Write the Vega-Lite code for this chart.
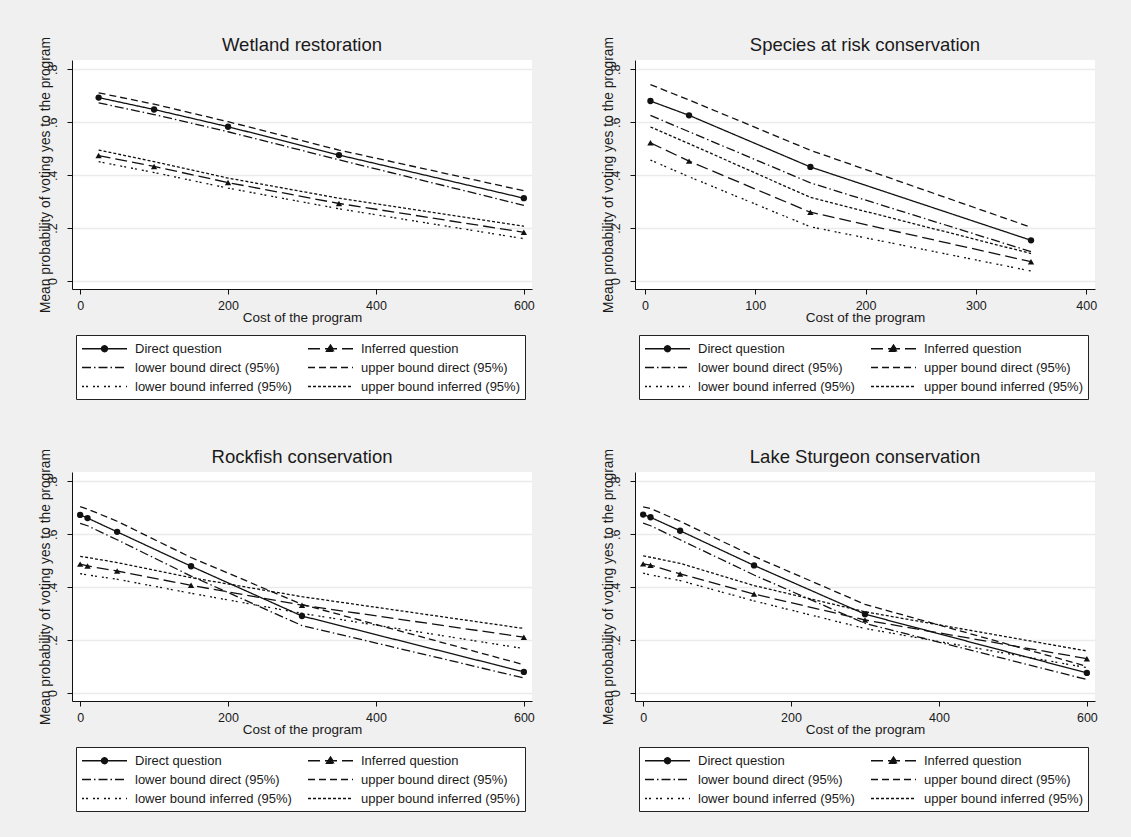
{
  "$schema": "https://vega.github.io/schema/vega-lite/v6.json",
  "autosize": {"type": "pad"},
  "padding": {"left": 37, "top": 36, "right": 42, "bottom": 25},
  "background": "#f0f0f0",
  "datasets": {
    "wetland": [
      {"series": "Direct question", "cost": 25, "prob": 0.693},
      {"series": "Direct question", "cost": 100, "prob": 0.648},
      {"series": "Direct question", "cost": 200, "prob": 0.583},
      {"series": "Direct question", "cost": 350, "prob": 0.476},
      {"series": "Direct question", "cost": 600, "prob": 0.313},
      {"series": "Inferred question", "cost": 25, "prob": 0.474},
      {"series": "Inferred question", "cost": 100, "prob": 0.433},
      {"series": "Inferred question", "cost": 200, "prob": 0.372},
      {"series": "Inferred question", "cost": 350, "prob": 0.293},
      {"series": "Inferred question", "cost": 600, "prob": 0.184},
      {"series": "lower bound direct (95%)", "cost": 25, "prob": 0.673},
      {"series": "lower bound direct (95%)", "cost": 100, "prob": 0.629},
      {"series": "lower bound direct (95%)", "cost": 200, "prob": 0.564},
      {"series": "lower bound direct (95%)", "cost": 350, "prob": 0.458},
      {"series": "lower bound direct (95%)", "cost": 600, "prob": 0.286},
      {"series": "upper bound direct (95%)", "cost": 25, "prob": 0.711},
      {"series": "upper bound direct (95%)", "cost": 100, "prob": 0.668},
      {"series": "upper bound direct (95%)", "cost": 200, "prob": 0.602},
      {"series": "upper bound direct (95%)", "cost": 350, "prob": 0.495},
      {"series": "upper bound direct (95%)", "cost": 600, "prob": 0.341},
      {"series": "lower bound inferred (95%)", "cost": 25, "prob": 0.451},
      {"series": "lower bound inferred (95%)", "cost": 100, "prob": 0.410},
      {"series": "lower bound inferred (95%)", "cost": 200, "prob": 0.351},
      {"series": "lower bound inferred (95%)", "cost": 350, "prob": 0.273},
      {"series": "lower bound inferred (95%)", "cost": 600, "prob": 0.160},
      {"series": "upper bound inferred (95%)", "cost": 25, "prob": 0.495},
      {"series": "upper bound inferred (95%)", "cost": 100, "prob": 0.451},
      {"series": "upper bound inferred (95%)", "cost": 200, "prob": 0.389},
      {"series": "upper bound inferred (95%)", "cost": 350, "prob": 0.313},
      {"series": "upper bound inferred (95%)", "cost": 600, "prob": 0.207}
    ],
    "species": [
      {"series": "Direct question", "cost": 5, "prob": 0.680},
      {"series": "Direct question", "cost": 40, "prob": 0.626},
      {"series": "Direct question", "cost": 150, "prob": 0.431},
      {"series": "Direct question", "cost": 350, "prob": 0.154},
      {"series": "Inferred question", "cost": 5, "prob": 0.522},
      {"series": "Inferred question", "cost": 40, "prob": 0.453},
      {"series": "Inferred question", "cost": 150, "prob": 0.260},
      {"series": "Inferred question", "cost": 350, "prob": 0.073},
      {"series": "lower bound direct (95%)", "cost": 5, "prob": 0.626},
      {"series": "lower bound direct (95%)", "cost": 40, "prob": 0.564},
      {"series": "lower bound direct (95%)", "cost": 150, "prob": 0.371},
      {"series": "lower bound direct (95%)", "cost": 350, "prob": 0.111},
      {"series": "upper bound direct (95%)", "cost": 5, "prob": 0.742},
      {"series": "upper bound direct (95%)", "cost": 40, "prob": 0.684},
      {"series": "upper bound direct (95%)", "cost": 150, "prob": 0.494},
      {"series": "upper bound direct (95%)", "cost": 350, "prob": 0.203},
      {"series": "lower bound inferred (95%)", "cost": 5, "prob": 0.457},
      {"series": "lower bound inferred (95%)", "cost": 40, "prob": 0.394},
      {"series": "lower bound inferred (95%)", "cost": 150, "prob": 0.205},
      {"series": "lower bound inferred (95%)", "cost": 350, "prob": 0.038},
      {"series": "upper bound inferred (95%)", "cost": 5, "prob": 0.582},
      {"series": "upper bound inferred (95%)", "cost": 40, "prob": 0.519},
      {"series": "upper bound inferred (95%)", "cost": 150, "prob": 0.316},
      {"series": "upper bound inferred (95%)", "cost": 350, "prob": 0.104}
    ],
    "rockfish": [
      {"series": "Direct question", "cost": 0, "prob": 0.673},
      {"series": "Direct question", "cost": 10, "prob": 0.661},
      {"series": "Direct question", "cost": 50, "prob": 0.609},
      {"series": "Direct question", "cost": 150, "prob": 0.479},
      {"series": "Direct question", "cost": 300, "prob": 0.291},
      {"series": "Direct question", "cost": 600, "prob": 0.080},
      {"series": "Inferred question", "cost": 0, "prob": 0.487},
      {"series": "Inferred question", "cost": 10, "prob": 0.480},
      {"series": "Inferred question", "cost": 50, "prob": 0.461},
      {"series": "Inferred question", "cost": 150, "prob": 0.407},
      {"series": "Inferred question", "cost": 300, "prob": 0.332},
      {"series": "Inferred question", "cost": 600, "prob": 0.211},
      {"series": "lower bound direct (95%)", "cost": 0, "prob": 0.641},
      {"series": "lower bound direct (95%)", "cost": 10, "prob": 0.632},
      {"series": "lower bound direct (95%)", "cost": 50, "prob": 0.579},
      {"series": "lower bound direct (95%)", "cost": 150, "prob": 0.442},
      {"series": "lower bound direct (95%)", "cost": 300, "prob": 0.255},
      {"series": "lower bound direct (95%)", "cost": 600, "prob": 0.057},
      {"series": "upper bound direct (95%)", "cost": 0, "prob": 0.704},
      {"series": "upper bound direct (95%)", "cost": 10, "prob": 0.695},
      {"series": "upper bound direct (95%)", "cost": 50, "prob": 0.649},
      {"series": "upper bound direct (95%)", "cost": 150, "prob": 0.512},
      {"series": "upper bound direct (95%)", "cost": 300, "prob": 0.335},
      {"series": "upper bound direct (95%)", "cost": 600, "prob": 0.107},
      {"series": "lower bound inferred (95%)", "cost": 0, "prob": 0.451},
      {"series": "lower bound inferred (95%)", "cost": 10, "prob": 0.446},
      {"series": "lower bound inferred (95%)", "cost": 50, "prob": 0.430},
      {"series": "lower bound inferred (95%)", "cost": 150, "prob": 0.377},
      {"series": "lower bound inferred (95%)", "cost": 300, "prob": 0.301},
      {"series": "lower bound inferred (95%)", "cost": 600, "prob": 0.168},
      {"series": "upper bound inferred (95%)", "cost": 0, "prob": 0.516},
      {"series": "upper bound inferred (95%)", "cost": 10, "prob": 0.512},
      {"series": "upper bound inferred (95%)", "cost": 50, "prob": 0.493},
      {"series": "upper bound inferred (95%)", "cost": 150, "prob": 0.436},
      {"series": "upper bound inferred (95%)", "cost": 300, "prob": 0.364},
      {"series": "upper bound inferred (95%)", "cost": 600, "prob": 0.244}
    ],
    "sturgeon": [
      {"series": "Direct question", "cost": 0, "prob": 0.674},
      {"series": "Direct question", "cost": 10, "prob": 0.664},
      {"series": "Direct question", "cost": 50, "prob": 0.613},
      {"series": "Direct question", "cost": 150, "prob": 0.482},
      {"series": "Direct question", "cost": 300, "prob": 0.298},
      {"series": "Direct question", "cost": 600, "prob": 0.076},
      {"series": "Inferred question", "cost": 0, "prob": 0.488},
      {"series": "Inferred question", "cost": 10, "prob": 0.483},
      {"series": "Inferred question", "cost": 50, "prob": 0.450},
      {"series": "Inferred question", "cost": 150, "prob": 0.374},
      {"series": "Inferred question", "cost": 300, "prob": 0.276},
      {"series": "Inferred question", "cost": 600, "prob": 0.130},
      {"series": "lower bound direct (95%)", "cost": 0, "prob": 0.642},
      {"series": "lower bound direct (95%)", "cost": 10, "prob": 0.632},
      {"series": "lower bound direct (95%)", "cost": 50, "prob": 0.579},
      {"series": "lower bound direct (95%)", "cost": 150, "prob": 0.446},
      {"series": "lower bound direct (95%)", "cost": 300, "prob": 0.263},
      {"series": "lower bound direct (95%)", "cost": 600, "prob": 0.051},
      {"series": "upper bound direct (95%)", "cost": 0, "prob": 0.703},
      {"series": "upper bound direct (95%)", "cost": 10, "prob": 0.697},
      {"series": "upper bound direct (95%)", "cost": 50, "prob": 0.649},
      {"series": "upper bound direct (95%)", "cost": 150, "prob": 0.516},
      {"series": "upper bound direct (95%)", "cost": 300, "prob": 0.335},
      {"series": "upper bound direct (95%)", "cost": 600, "prob": 0.101},
      {"series": "lower bound inferred (95%)", "cost": 0, "prob": 0.453},
      {"series": "lower bound inferred (95%)", "cost": 10, "prob": 0.446},
      {"series": "lower bound inferred (95%)", "cost": 50, "prob": 0.425},
      {"series": "lower bound inferred (95%)", "cost": 150, "prob": 0.348},
      {"series": "lower bound inferred (95%)", "cost": 300, "prob": 0.244},
      {"series": "lower bound inferred (95%)", "cost": 600, "prob": 0.096},
      {"series": "upper bound inferred (95%)", "cost": 0, "prob": 0.518},
      {"series": "upper bound inferred (95%)", "cost": 10, "prob": 0.513},
      {"series": "upper bound inferred (95%)", "cost": 50, "prob": 0.490},
      {"series": "upper bound inferred (95%)", "cost": 150, "prob": 0.406},
      {"series": "upper bound inferred (95%)", "cost": 300, "prob": 0.307},
      {"series": "upper bound inferred (95%)", "cost": 600, "prob": 0.159}
    ]
  },
  "columns": 2,
  "spacing": {"row": 183, "column": 103},
  "bounds": "flush",
  "resolve": {"scale": {"strokeDash": "independent"}, "legend": {"strokeDash": "independent"}},
  "concat": [
    {
      "title": "Wetland restoration",
      "width": 460, "height": 229,
      "data": {"name": "wetland"},
      "layer": [
        {
          "mark": {"type": "line", "strokeWidth": 1.3, "color": "#111111"},
          "encoding": {
            "x": {"field": "cost", "type": "quantitative", "scale": {"domain": [-11, 611], "nice": false, "zero": false}, "axis": {"values": [0, 200, 400, 600], "title": "Cost of the program"}},
            "y": {"field": "prob", "type": "quantitative", "scale": {"domain": [-0.03, 0.835], "nice": false, "zero": false}, "axis": {"values": [0, 0.2, 0.4, 0.6, 0.8], "title": "Mean probability of voting yes to the program"}},
            "strokeDash": {"field": "series", "type": "nominal",
              "scale": {"domain": ["Direct question", "Inferred question", "lower bound direct (95%)", "upper bound direct (95%)", "lower bound inferred (95%)", "upper bound inferred (95%)"],
                        "range": [[1, 0], [12, 5], [9, 3, 1.5, 3], [7, 4], [2, 2, 2, 5], [3, 2]]},
              "legend": {"title": null, "orient": "none", "legendX": 4, "legendY": 275, "columns": 2, "direction": "horizontal",
                "encode": {"symbols": {"update": {"shape": {"signal": "datum.value === 'Direct question' ? 'M-1,0H5M1.6,0A0.4,0.4,0,1,0,2.4,0A0.4,0.4,0,1,0,1.6,0' : datum.value === 'Inferred question' ? 'M-1,0H5M1.45,0.35L2,-0.5L2.55,0.35Z' : 'M-1,0H5'"}, "fill": {"value": "#111111"}, "stroke": {"value": "#111111"}, "strokeWidth": {"value": 1.3}}}}}
            }
          }
        },
        {
          "transform": [{"filter": {"field": "series", "oneOf": ["Direct question", "Inferred question"]}}],
          "mark": {"type": "point", "filled": true, "opacity": 1, "color": "#111111", "size": 40},
          "encoding": {
            "x": {"field": "cost", "type": "quantitative"},
            "y": {"field": "prob", "type": "quantitative"},
            "shape": {"field": "series", "type": "nominal", "scale": {"domain": ["Direct question", "Inferred question"], "range": ["circle", "triangle-up"]}, "legend": null}
          }
        }
      ]
    },
    {
      "title": "Species at risk conservation",
      "width": 460, "height": 229,
      "data": {"name": "species"},
      "layer": [
        {
          "mark": {"type": "line", "strokeWidth": 1.3, "color": "#111111"},
          "encoding": {
            "x": {"field": "cost", "type": "quantitative", "scale": {"domain": [-9, 408], "nice": false, "zero": false}, "axis": {"values": [0, 100, 200, 300, 400], "title": "Cost of the program"}},
            "y": {"field": "prob", "type": "quantitative", "scale": {"domain": [-0.03, 0.835], "nice": false, "zero": false}, "axis": {"values": [0, 0.2, 0.4, 0.6, 0.8], "title": "Mean probability of voting yes to the program"}},
            "strokeDash": {"field": "series", "type": "nominal",
              "scale": {"domain": ["Direct question", "Inferred question", "lower bound direct (95%)", "upper bound direct (95%)", "lower bound inferred (95%)", "upper bound inferred (95%)"],
                        "range": [[1, 0], [12, 5], [9, 3, 1.5, 3], [7, 4], [2, 2, 2, 5], [3, 2]]},
              "legend": {"title": null, "orient": "none", "legendX": 4, "legendY": 275, "columns": 2, "direction": "horizontal",
                "encode": {"symbols": {"update": {"shape": {"signal": "datum.value === 'Direct question' ? 'M-1,0H5M1.6,0A0.4,0.4,0,1,0,2.4,0A0.4,0.4,0,1,0,1.6,0' : datum.value === 'Inferred question' ? 'M-1,0H5M1.45,0.35L2,-0.5L2.55,0.35Z' : 'M-1,0H5'"}, "fill": {"value": "#111111"}, "stroke": {"value": "#111111"}, "strokeWidth": {"value": 1.3}}}}}
            }
          }
        },
        {
          "transform": [{"filter": {"field": "series", "oneOf": ["Direct question", "Inferred question"]}}],
          "mark": {"type": "point", "filled": true, "opacity": 1, "color": "#111111", "size": 40},
          "encoding": {
            "x": {"field": "cost", "type": "quantitative"},
            "y": {"field": "prob", "type": "quantitative"},
            "shape": {"field": "series", "type": "nominal", "scale": {"domain": ["Direct question", "Inferred question"], "range": ["circle", "triangle-up"]}, "legend": null}
          }
        }
      ]
    },
    {
      "title": "Rockfish conservation",
      "width": 460, "height": 229,
      "data": {"name": "rockfish"},
      "layer": [
        {
          "mark": {"type": "line", "strokeWidth": 1.3, "color": "#111111"},
          "encoding": {
            "x": {"field": "cost", "type": "quantitative", "scale": {"domain": [-11, 611], "nice": false, "zero": false}, "axis": {"values": [0, 200, 400, 600], "title": "Cost of the program"}},
            "y": {"field": "prob", "type": "quantitative", "scale": {"domain": [-0.03, 0.835], "nice": false, "zero": false}, "axis": {"values": [0, 0.2, 0.4, 0.6, 0.8], "title": "Mean probability of voting yes to the program"}},
            "strokeDash": {"field": "series", "type": "nominal",
              "scale": {"domain": ["Direct question", "Inferred question", "lower bound direct (95%)", "upper bound direct (95%)", "lower bound inferred (95%)", "upper bound inferred (95%)"],
                        "range": [[1, 0], [12, 5], [9, 3, 1.5, 3], [7, 4], [2, 2, 2, 5], [3, 2]]},
              "legend": {"title": null, "orient": "none", "legendX": 4, "legendY": 275, "columns": 2, "direction": "horizontal",
                "encode": {"symbols": {"update": {"shape": {"signal": "datum.value === 'Direct question' ? 'M-1,0H5M1.6,0A0.4,0.4,0,1,0,2.4,0A0.4,0.4,0,1,0,1.6,0' : datum.value === 'Inferred question' ? 'M-1,0H5M1.45,0.35L2,-0.5L2.55,0.35Z' : 'M-1,0H5'"}, "fill": {"value": "#111111"}, "stroke": {"value": "#111111"}, "strokeWidth": {"value": 1.3}}}}}
            }
          }
        },
        {
          "transform": [{"filter": {"field": "series", "oneOf": ["Direct question", "Inferred question"]}}],
          "mark": {"type": "point", "filled": true, "opacity": 1, "color": "#111111", "size": 40},
          "encoding": {
            "x": {"field": "cost", "type": "quantitative"},
            "y": {"field": "prob", "type": "quantitative"},
            "shape": {"field": "series", "type": "nominal", "scale": {"domain": ["Direct question", "Inferred question"], "range": ["circle", "triangle-up"]}, "legend": null}
          }
        }
      ]
    },
    {
      "title": "Lake Sturgeon conservation",
      "width": 460, "height": 229,
      "data": {"name": "sturgeon"},
      "layer": [
        {
          "mark": {"type": "line", "strokeWidth": 1.3, "color": "#111111"},
          "encoding": {
            "x": {"field": "cost", "type": "quantitative", "scale": {"domain": [-11, 611], "nice": false, "zero": false}, "axis": {"values": [0, 200, 400, 600], "title": "Cost of the program"}},
            "y": {"field": "prob", "type": "quantitative", "scale": {"domain": [-0.03, 0.835], "nice": false, "zero": false}, "axis": {"values": [0, 0.2, 0.4, 0.6, 0.8], "title": "Mean probability of voting yes to the program"}},
            "strokeDash": {"field": "series", "type": "nominal",
              "scale": {"domain": ["Direct question", "Inferred question", "lower bound direct (95%)", "upper bound direct (95%)", "lower bound inferred (95%)", "upper bound inferred (95%)"],
                        "range": [[1, 0], [12, 5], [9, 3, 1.5, 3], [7, 4], [2, 2, 2, 5], [3, 2]]},
              "legend": {"title": null, "orient": "none", "legendX": 4, "legendY": 275, "columns": 2, "direction": "horizontal",
                "encode": {"symbols": {"update": {"shape": {"signal": "datum.value === 'Direct question' ? 'M-1,0H5M1.6,0A0.4,0.4,0,1,0,2.4,0A0.4,0.4,0,1,0,1.6,0' : datum.value === 'Inferred question' ? 'M-1,0H5M1.45,0.35L2,-0.5L2.55,0.35Z' : 'M-1,0H5'"}, "fill": {"value": "#111111"}, "stroke": {"value": "#111111"}, "strokeWidth": {"value": 1.3}}}}}
            }
          }
        },
        {
          "transform": [{"filter": {"field": "series", "oneOf": ["Direct question", "Inferred question"]}}],
          "mark": {"type": "point", "filled": true, "opacity": 1, "color": "#111111", "size": 40},
          "encoding": {
            "x": {"field": "cost", "type": "quantitative"},
            "y": {"field": "prob", "type": "quantitative"},
            "shape": {"field": "series", "type": "nominal", "scale": {"domain": ["Direct question", "Inferred question"], "range": ["circle", "triangle-up"]}, "legend": null}
          }
        }
      ]
    }
  ],
  "config": {
    "font": "Liberation Sans",
    "view": {"fill": "white", "stroke": null},
    "title": {"fontSize": 18.5, "fontWeight": "normal", "color": "#1a1a1a", "offset": -18.5, "anchor": "middle", "frame": "group"},
    "axis": {"domainColor": "#111111", "tickColor": "#111111", "tickSize": 5, "labelFontSize": 12.5, "labelColor": "#1a1a1a", "titleFontSize": 13.5, "titleFontWeight": "normal", "titleColor": "#1a1a1a", "grid": false, "labelFlush": false, "labelOverlap": false},
    "axisX": {"labelPadding": 5, "titlePadding": -1},
    "axisY": {"grid": true, "gridColor": "#ebebeb", "gridWidth": 1.3, "labelAngle": -90, "labelPadding": 8, "titlePadding": -6, "titleFontSize": 13.8, "labelExpr": "datum.value == 0 ? '0' : replace(format(datum.value, '.1f'), '0.', '.')"},
    "legend": {"fillColor": "white", "strokeColor": "#222222", "padding": 5, "labelFontSize": 13, "labelColor": "#1a1a1a", "symbolSize": 225, "symbolStrokeWidth": 1.3, "symbolStrokeColor": "#111111", "symbolType": "M-1,0H5", "labelOffset": 37, "rowPadding": 3, "columnPadding": 13}
  }
}
